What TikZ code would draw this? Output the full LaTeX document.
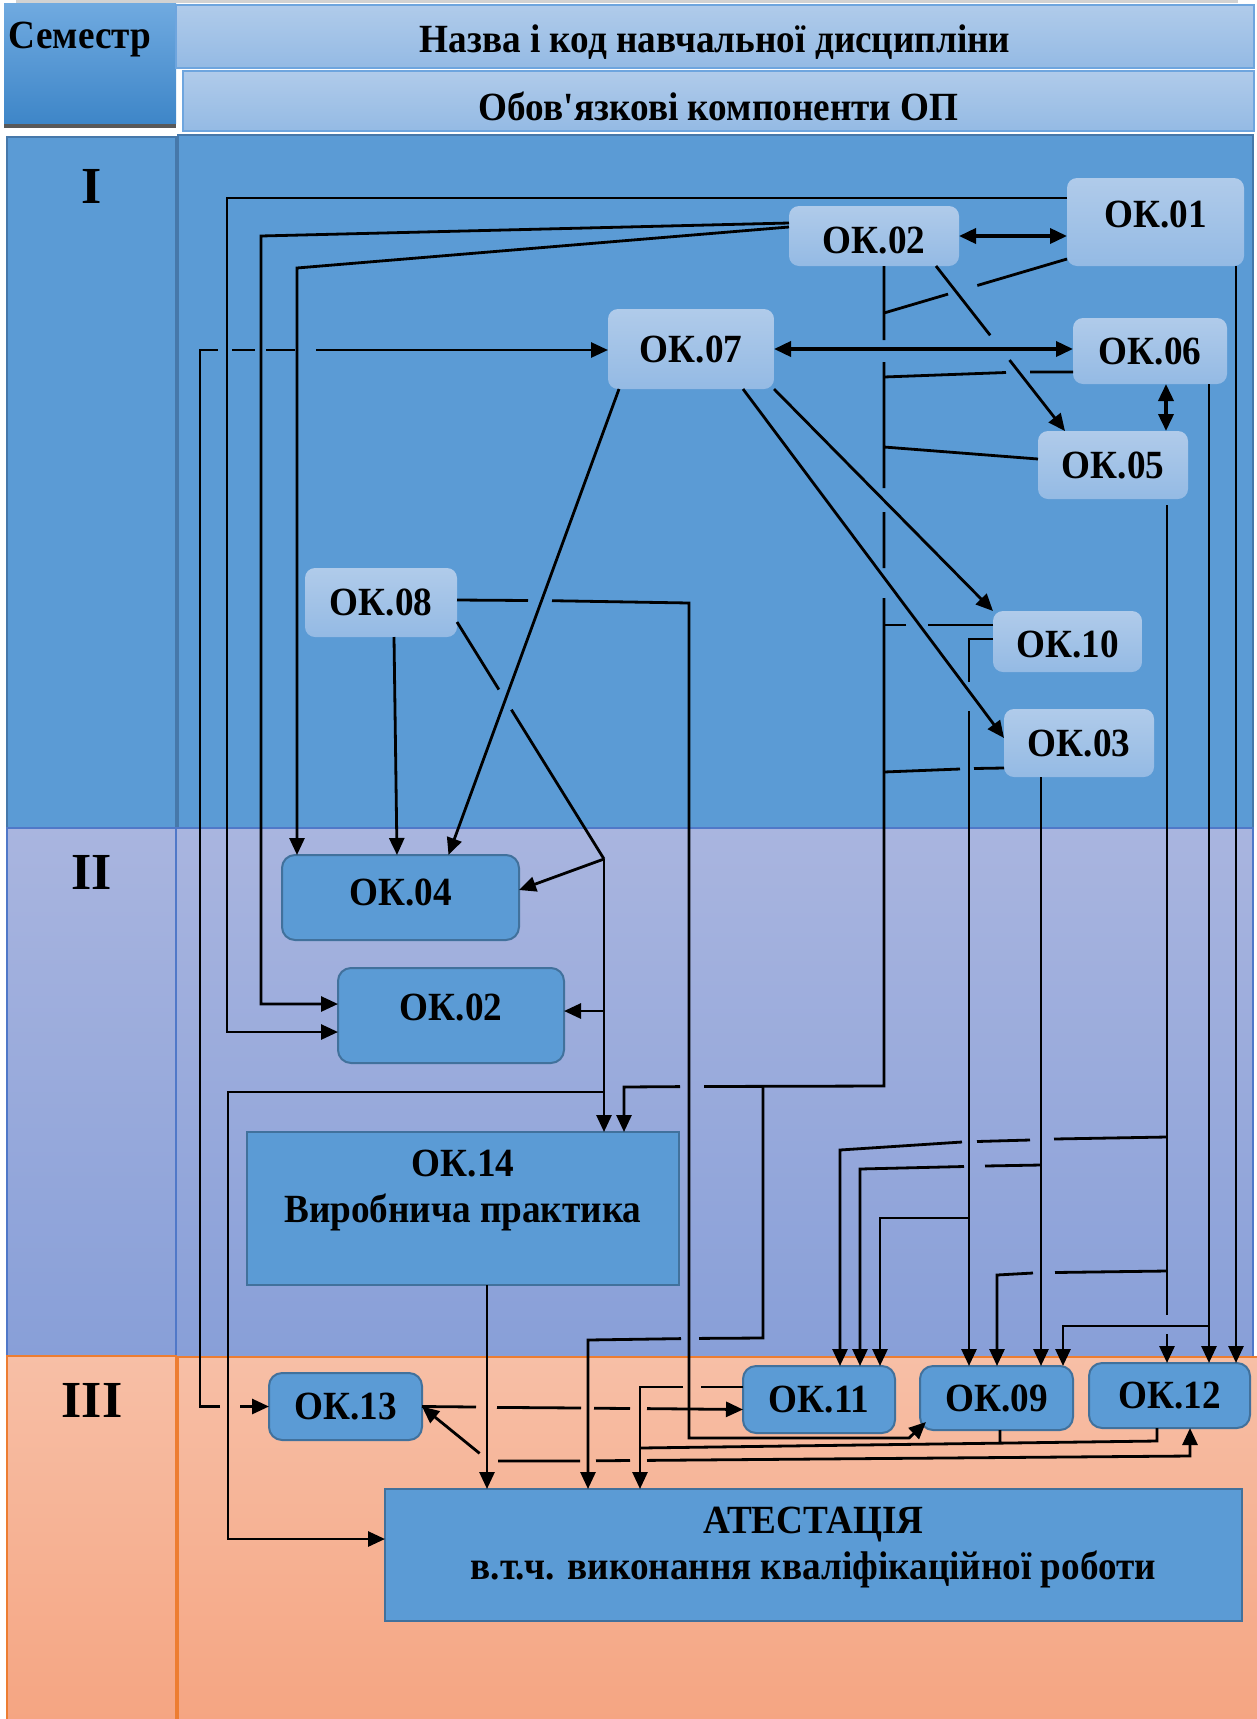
\documentclass[tikz,border=0pt]{standalone}
\usepackage{fontspec}
\setmainfont{Liberation Serif}
\newfontfamily\lblfont[FakeStretch=0.93]{Liberation Serif}
\usetikzlibrary{arrows.meta,calc}
\definecolor{bandI}{RGB}{91,155,213}
\definecolor{bandIline}{RGB}{70,120,170}
\definecolor{bandIItop}{RGB}{169,181,223}
\definecolor{bandIIbot}{RGB}{136,159,216}
\definecolor{bandIIline}{RGB}{80,120,200}
\definecolor{bandIIItop}{RGB}{247,191,166}
\definecolor{bandIIIbot}{RGB}{245,165,130}
\definecolor{bandIIIline}{RGB}{237,125,49}
\definecolor{lighttop}{RGB}{176,203,234}
\definecolor{lightbot}{RGB}{148,186,228}
\definecolor{darkfill}{RGB}{91,155,213}
\definecolor{darkline}{RGB}{65,113,156}
\definecolor{semtop}{RGB}{112,170,224}
\definecolor{sembot}{RGB}{62,134,200}
\definecolor{hdrline}{RGB}{110,165,222}
\newcommand\liftby[2]{\raisebox{#1}[\height][\depth]{#2}}
\begin{document}
\begin{tikzpicture}[x=1pt,y=-1pt,
  >={Triangle[length=17pt,width=15pt]},
  lbl/.style={font=\lblfont\fontsize{40}{46}\selectfont\bfseries},
  roman/.style={font=\fontsize{52}{60}\selectfont\bfseries},
  lnode/.style={rectangle,rounded corners=10pt,top color=lighttop,bottom color=lightbot,inner sep=0pt,outer sep=0pt,lbl},
  dnode/.style={rectangle,rounded corners=13pt,fill=darkfill,draw=darkline,line width=2pt,inner sep=0pt,outer sep=0pt,lbl},
  rnode/.style={rectangle,fill=darkfill,draw=darkline,line width=2pt,inner sep=0pt,outer sep=0pt},
  hdr/.style={rectangle,top color=lighttop,bottom color=lightbot,draw=hdrline,line width=1.5pt,inner sep=0pt,outer sep=0pt,lbl},
  ln/.style={line width=2.8pt,line cap=butt,line join=miter},
  thickln/.style={line width=3.6pt,line cap=butt},
]
\useasboundingbox (0,0) rectangle (1256,1719);
% ---------- bands ----------
\draw[draw=bandIline,line width=1.5pt,fill=bandI] (7,137) rectangle (176,828);
\draw[draw=bandIline,line width=2.5pt,fill=bandI] (178,135) rectangle (1253,828);
\draw[draw=bandIIline,line width=1.2pt,top color=bandIItop,bottom color=bandIIbot] (7,828) rectangle (176,1356);
\draw[draw=bandIIline,line width=1.2pt,top color=bandIItop,bottom color=bandIIbot] (176,828) rectangle (1253,1357);
\draw[draw=bandIIIline,line width=1.2pt,top color=bandIIItop,bottom color=bandIIIbot] (7,1356) rectangle (176,1721);
\draw[draw=bandIIIline,line width=1.2pt,top color=bandIIItop,bottom color=bandIIIbot] (178,1357) rectangle (1258,1721);
% ---------- header ----------
\fill[gray!35] (16,0) rectangle (1238,2.5);
\fill[black!65] (4,118) rectangle (176,128);
\node[rectangle,inner sep=0pt,outer sep=0pt,top color=semtop,bottom color=sembot,minimum width=172pt,minimum height=120pt] (sem) at (90,63) {};
\node[lbl] (semt) at (80,40) {Семестр};
\node[hdr,minimum width=1078pt,minimum height=63pt] (h1) at (715,36.5) {\liftby{-6pt}{Назва і код навчальної дисципліни}};
\node[hdr,minimum width=1071pt,minimum height=60pt] (h2) at (718.5,101) {\liftby{-5pt}{Обов\textquotesingle язкові компоненти ОП}};
% ---------- semester numerals ----------
\node[roman] (r1) at (92,186) {I};
\node[roman] (r2) at (92,872) {II};
\node[roman] (r3) at (92,1400) {III};
% ---------- nodes: semester I ----------
\node[lnode,minimum width=177pt,minimum height=88pt] (ok01) at (1155.5,222) {\liftby{8pt}{ОК.01}};
\node[lnode,minimum width=170pt,minimum height=60pt] (ok02a) at (874,236) {\liftby{-4pt}{ОК.02}};
\node[lnode,minimum width=166pt,minimum height=80pt] (ok07) at (691,349) {ОК.07};
\node[lnode,minimum width=154pt,minimum height=66pt] (ok06) at (1150,351) {ОК.06};
\node[lnode,minimum width=150pt,minimum height=68pt] (ok05) at (1113,465) {ОК.05};
\node[lnode,minimum width=152pt,minimum height=69pt] (ok08) at (381,602.5) {ОК.08};
\node[lnode,minimum width=149pt,minimum height=61pt] (ok10) at (1067.5,641.5) {\liftby{-3pt}{ОК.10}};
\node[lnode,minimum width=150pt,minimum height=68pt] (ok03) at (1079,743) {ОК.03};
% ---------- nodes: semester II ----------
\node[dnode,minimum width=237pt,minimum height=85pt] (ok04) at (400.5,897.5) {\liftby{5pt}{ОК.04}};
\node[dnode,minimum width=226pt,minimum height=95pt] (ok02b) at (451,1015.5) {\liftby{8pt}{ОК.02}};
\node[rnode,minimum width=432pt,minimum height=153pt] (ok14) at (463,1208.5) {};
\node[lbl,align=center] (ok14t) at (463,1190) {ОК.14\\Виробнича практика};
% ---------- nodes: semester III ----------
\node[dnode,minimum width=153pt,minimum height=67pt] (ok13) at (345.5,1406.5) {ОК.13};
\node[dnode,minimum width=152pt,minimum height=67pt] (ok11) at (819,1399.5) {ОК.11};
\node[dnode,minimum width=153pt,minimum height=64pt] (ok09) at (996.5,1398) {ОК.09};
\node[dnode,minimum width=161pt,minimum height=65pt] (ok12) at (1169.5,1395.5) {ОК.12};
\node[rnode,minimum width=857pt,minimum height=132pt] (att) at (813.5,1555) {};
\node[lbl,align=center] (attt) at (813.5,1547) {АТЕСТАЦІЯ\\в.т.ч. виконання кваліфікаційної роботи};
% ---------- helper coordinates ----------
\coordinate (s8) at ([yshift=-19.5pt]ok08.east);
\coordinate (j8) at (604,859);
\coordinate (s11) at ([xshift=62pt]ok02a.south);
\coordinate (e11) at ([xshift=-48pt]ok05.north);
\coordinate (s16) at ([yshift=-37pt]ok01.west);
\coordinate (e16) at (884,313);
\coordinate (k30) at (489,1461);
% ---------- connectors ----------
% OK.01 -> OK.02 (II)
\draw[ln,->] ([yshift=24pt]ok01.west) -- (227,198) -- (227,1032) -- (ok02b.west |- 0,1032);
% OK.02 -> OK.02 (II)
\draw[ln,->] ([yshift=13pt]ok02a.west) -- (261,236) -- (261,1004) -- (ok02b.west |- 0,1004);
% OK.02 -> OK.04
\draw[ln,->] ([yshift=9pt]ok02a.west) -- (297,268) -- (297,0 |- ok04.north);
% OK.13 <-> OK.07
\draw[ln,<-] (ok13.west) -- (240,1406.5);
\draw[ln,->] (220,1406.5) -- (200,1406.5) -- (200,350) -- (218,350)
  (232,350) -- (255,350) (266,350) -- (295,350) (316,350) -- (ok07.west |- 0,350);
% OK.07 -> OK.04
\draw[ln,->] ([xshift=-72pt]ok07.south) -- ([xshift=48pt]ok04.north);
% OK.08 -> OK.04
\draw[ln,->] ([xshift=13pt]ok08.south) -- ([xshift=-3.5pt]ok04.north);
% OK.08 -> OK.04, OK.02, OK.14, attestation
\draw[ln] (s8) -- ($(s8)!0.285!(j8)$) ($(s8)!0.37!(j8)$) -- (j8);
\draw[ln,->] (j8) -- ([yshift=7.5pt]ok04.east);
\draw[ln,->] (j8) -- (j8 |- ok14.north);
\draw[ln,->] (604,1011) -- (ok02b.east |- 0,1011);
\draw[ln,->] (604,1092) -- (228,1092) -- (228,1539) -- (att.west |- 0,1539);
% OK.08 -> OK.09
\draw[ln,->] ([yshift=2.5pt]ok08.east) -- (528,600.5) (552,600.7) -- (689,603) -- (689,1438) -- (909,1438)
  -- ([xshift=6pt,yshift=8pt]ok09.south west);
% OK.07 <-> OK.06, OK.02 <-> OK.01, OK.06 <-> OK.05
\draw[thickln,<->] (ok07.east) -- (ok07.east -| ok06.west);
\draw[thickln,<->] (ok02a.east) -- (ok02a.east -| ok01.west);
\draw[thickln,<->] ([xshift=16pt]ok06.south) -- ([xshift=16pt]ok06.south |- ok05.north);
% OK.02 -> OK.05
\draw[ln,->] (s11) -- ($(s11)!0.42!(e11)$) ($(s11)!0.57!(e11)$) -- (e11);
% OK.07 -> OK.10, OK.07 -> OK.03
\draw[ln,->] (ok07.south east) -- (ok10.north west);
\draw[ln,->] ([xshift=52pt]ok07.south) -- ([yshift=5pt]ok03.west);
% collecting line from OK.02 -> OK.14 and attestation
\draw[ln,->] ([xshift=10pt]ok02a.south) -- (884,340) (884,362) -- (884,488) (884,512) -- (884,568)
  (884,598) -- (884,1086) -- (704,1086.5) (680,1086.6) -- (624,1087) -- (624,0 |- ok14.north);
\draw[ln,->] (763,1086) -- (763,1338) -- (699,1338.4) (681,1338.6) -- (588,1340) -- (588,0 |- att.north);
% lines joining the collecting line
\draw[ln] (s16) -- ($(s16)!0.49!(e16)$) ($(s16)!0.65!(e16)$) -- (e16);
\draw[ln] ([yshift=-21pt]ok06.west) -- (1030,372) (1006,372.5) -- (884,377);
\draw[ln] ([yshift=6pt]ok05.west) -- (884,447);
\draw[ln] ([yshift=16.5pt]ok10.west) -- (928,625) (906,625) -- (884,625);
\draw[ln] ([yshift=-25pt]ok03.west) -- (974,768.5) (960,769) -- (884,772);
% OK.10 -> OK.09, OK.11
\draw[ln,->] ([yshift=2.5pt]ok10.west) -- (969,639) -- (969,682) (969,711) -- (969,0 |- ok09.north);
\draw[ln,->] (969,1218) -- (880,1218) -- (880,0 |- ok11.north);
% OK.03 -> OK.09, OK.11
\draw[ln,->] ([xshift=-38pt]ok03.south) -- (1041,0 |- ok09.north);
\draw[ln,->] (1041,1165) -- (985,1166) (964,1166.5) -- (860,1169) -- (860,0 |- ok11.north);
% OK.05 -> OK.12, OK.11, OK.09
\draw[ln,->] ([xshift=54pt,yshift=-6pt]ok05.south) -- (1167,1315) (1167,1334) -- (1167,0 |- ok12.north);
\draw[ln,->] (1167,1137) -- (1054,1139) (1030,1140) -- (977,1141.5) (962,1142) -- (840,1150) -- (840,0 |- ok11.north);
\draw[ln,->] (1167,1271) -- (1055,1272.5) (1033,1273) -- (997,1275) -- (997,0 |- ok09.north);
% OK.06 -> OK.12, OK.09
\draw[ln,->] ([xshift=59pt]ok06.south) -- (1209,0 |- ok12.north);
\draw[ln,->] (1209,1326) -- (1063,1326) -- (1063,0 |- ok09.north);
% OK.01 -> OK.12
\draw[ln,->] ([xshift=80.5pt]ok01.south) -- (1236,0 |- ok12.north);
% OK.14 -> attestation
\draw[ln,->] ([xshift=24pt]ok14.south) -- (487,0 |- att.north);
% OK.13 -> OK.11
\draw[ln,->] (ok13.east) -- (476,1407) (497,1407.4) -- (581,1408) (594,1408.2) -- (630,1408.5) (647,1408.6)
  -- ([yshift=-10pt]ok11.west);
% OK.11 -> attestation
\draw[ln,->] ([yshift=12.5pt]ok11.west) -- (701,1387) (683,1387) -- (640,1387) -- (640,0 |- att.north);
% OK.09, OK.12 -> attestation
\draw[ln] ([xshift=-12.5pt]ok12.south) -- (1157,1441) -- (640,1448)
  ([xshift=3.5pt]ok09.south) -- (1000,1443.2);
% OK.13 <-> OK.12
\draw[ln,<-] (ok13.east) -- ($(ok13.east)!0.86!(k30)$);
\draw[ln,->] (498,1461) -- (580,1461) (596,1460.8) -- (630,1460.5)
  (647,1460.4) -- (1190,1456) -- ([xshift=20.5pt]ok12.south);
\end{tikzpicture}
\end{document}
